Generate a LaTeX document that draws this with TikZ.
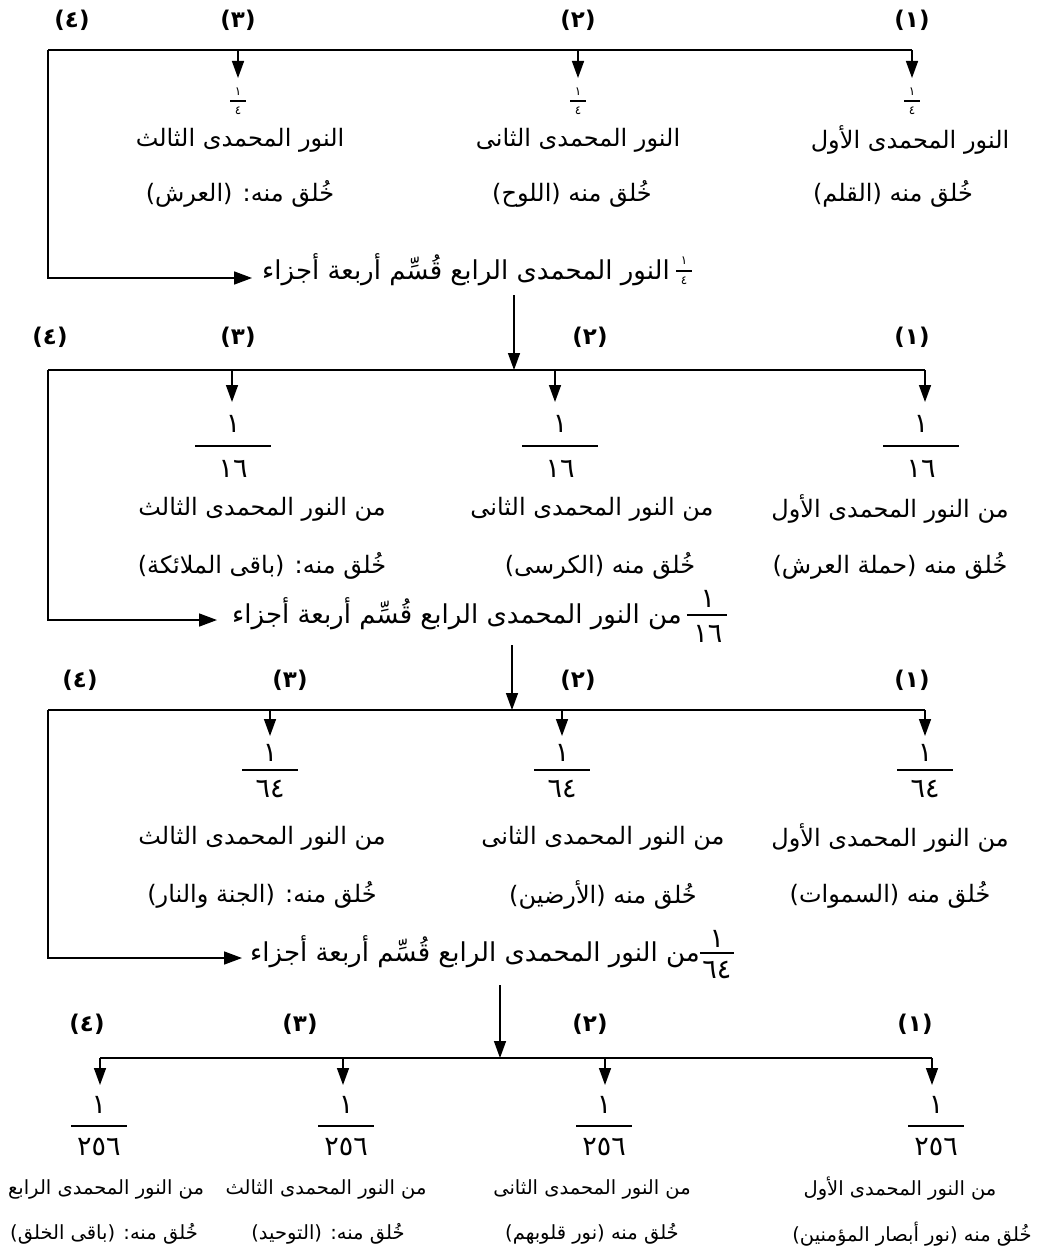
\documentclass[tikz,border=0pt]{standalone}
\usepackage{fontspec}
\newfontfamily\arabicfont[Script=Arabic]{DejaVu Sans}
\TeXXeTstate=1
\usetikzlibrary{arrows.meta}
\newcommand{\artxt}[1]{\beginR #1\endR}
\begin{document}
\begin{tikzpicture}[x=1pt,y=-1pt,
  every node/.style={inner sep=0pt},
  lbl/.style={font=\arabicfont\bfseries\fontsize{23}{26}\selectfont},
  rowtxt/.style={font=\arabicfont\fontsize{24}{28}\selectfont},
  rowsm/.style={font=\arabicfont\fontsize{19.5}{23}\selectfont},
  midtxt/.style={font=\arabicfont\fontsize{26}{30}\selectfont},
  num/.style={font=\arabicfont\fontsize{27}{30}\selectfont},
  snum/.style={font=\arabicfont\fontsize{12}{14}\selectfont},
  mainline/.style={line width=2.5pt},
  branch/.style={line width=1.5pt,-{Triangle[length=17pt,width=12pt]}},
  feed/.style={line width=1.6pt,-{Triangle[length=18pt,width=13pt]}},
  fbar/.style={line width=2.4pt}]
\useasboundingbox (0,0) rectangle (1044,1260);
\fill[white] (0,0) rectangle (1044,1260);

% ===== Section 1 =====
\node[lbl] (a4) at (72,20) {(٤)};
\node[lbl] (a3) at (238,20) {(٣)};
\node[lbl] (a2) at (578,20) {(٢)};
\node[lbl] (a1) at (912,20) {(١)};
\coordinate (aw) at (48,50);
\coordinate (ae) at (912,50);
\coordinate (aj3) at (238,50);
\coordinate (aj2) at (578,50);
\draw[mainline] (aw) -- (ae);
\coordinate (at1) at (912,78);
\coordinate (at2) at (578,78);
\coordinate (at3) at (238,78);
\draw[branch] (ae) -- (at1);
\draw[branch] (aj2) -- (at2);
\draw[branch] (aj3) -- (at3);
\foreach \x/\n in {912/1,578/2,238/3}{
  \node[snum] (afn\n) at (\x,92) {١};
  \draw[fbar] (\x-8,101) -- (\x+8,101);
  \node[snum] (afd\n) at (\x,111) {٤};
}
\node[rowtxt] (ar1a) at (910,140) {\artxt{النور المحمدى الأول}};
\node[rowtxt] (ar1b) at (578,140) {\artxt{النور المحمدى الثانى}};
\node[rowtxt] (ar1c) at (240,140) {\artxt{النور المحمدى الثالث}};
\node[rowtxt] (ar2a) at (893,194) {\artxt{خُلق منه (القلم)}};
\node[rowtxt] (ar2b) at (572,194) {\artxt{خُلق منه (اللوح)}};
\node[rowtxt] (ar2c) at (240,194) {\artxt{خُلق منه: (العرش)}};
\node[midtxt,anchor=west] (am) at (262,270) {\artxt{النور المحمدى الرابع قُسِّم أربعة أجزاء}};
\node[snum] (amn) at ([xshift=14pt,yshift=9pt]am.east) {١};
\draw[fbar] ([xshift=-8pt,yshift=-10pt]amn.center) -- ([xshift=8pt,yshift=-10pt]amn.center);
\node[snum] (amd) at ([yshift=-20pt]amn.center) {٤};
\coordinate (atip) at (252,278);
\draw[feed] (aw) |- (atip);

% ===== Section 2 =====
\node[lbl] (b4) at (50,337) {(٤)};
\node[lbl] (b3) at (238,337) {(٣)};
\node[lbl] (b2) at (590,337) {(٢)};
\node[lbl] (b1) at (912,337) {(١)};
\coordinate (bin) at (514,295);
\coordinate (bjm) at (514,370);
\draw[branch] (bin) -- (bjm);
\coordinate (bw) at (48,370);
\coordinate (be) at (925,370);
\coordinate (bj3) at (232,370);
\coordinate (bj2) at (555,370);
\draw[mainline] (bw) -- (be);
\coordinate (bt1) at (925,402);
\coordinate (bt2) at (555,402);
\coordinate (bt3) at (232,402);
\draw[branch] (be) -- (bt1);
\draw[branch] (bj2) -- (bt2);
\draw[branch] (bj3) -- (bt3);
\foreach \x/\n in {921/1,560/2,233/3}{
  \node[num] (bfn\n) at (\x,424) {١};
  \draw[fbar] (\x-38,446) -- (\x+38,446);
  \node[num] (bfd\n) at (\x,469) {١٦};
}
\node[rowtxt] (br1a) at (890,509) {\artxt{من النور المحمدى الأول}};
\node[rowtxt] (br1b) at (592,509) {\artxt{من النور المحمدى الثانى}};
\node[rowtxt] (br1c) at (262,509) {\artxt{من النور المحمدى الثالث}};
\node[rowtxt] (br2a) at (890,566) {\artxt{خُلق منه (حملة العرش)}};
\node[rowtxt] (br2b) at (600,566) {\artxt{خُلق منه (الكرسى)}};
\node[rowtxt] (br2c) at (262,566) {\artxt{خُلق منه: (باقى الملائكة)}};
\node[midtxt,anchor=west] (bm) at (232,614) {\artxt{من النور المحمدى الرابع قُسِّم أربعة أجزاء}};
\node[num] (bmn) at ([xshift=26pt,yshift=15pt]bm.east) {١};
\draw[fbar] ([xshift=-21pt,yshift=-16pt]bmn.center) -- ([xshift=19pt,yshift=-16pt]bmn.center);
\node[num] (bmd) at ([yshift=-35pt]bmn.center) {١٦};
\coordinate (btip) at (217,620);
\draw[feed] (bw) |- (btip);

% ===== Section 3 =====
\node[lbl] (c4) at (80,680) {(٤)};
\node[lbl] (c3) at (290,680) {(٣)};
\node[lbl] (c2) at (578,680) {(٢)};
\node[lbl] (c1) at (912,680) {(١)};
\coordinate (cin) at (512,645);
\coordinate (cjm) at (512,710);
\draw[branch] (cin) -- (cjm);
\coordinate (cw) at (48,710);
\coordinate (ce) at (925,710);
\coordinate (cj3) at (270,710);
\coordinate (cj2) at (562,710);
\draw[mainline] (cw) -- (ce);
\coordinate (ct1) at (925,736);
\coordinate (ct2) at (562,736);
\coordinate (ct3) at (270,736);
\draw[branch] (ce) -- (ct1);
\draw[branch] (cj2) -- (ct2);
\draw[branch] (cj3) -- (ct3);
\foreach \x/\n in {925/1,562/2,270/3}{
  \node[num] (cfn\n) at (\x,753) {١};
  \draw[fbar] (\x-28,770) -- (\x+28,770);
  \node[num] (cfd\n) at (\x,789) {٦٤};
}
\node[rowtxt] (cr1a) at (890,838) {\artxt{من النور المحمدى الأول}};
\node[rowtxt] (cr1b) at (603,838) {\artxt{من النور المحمدى الثانى}};
\node[rowtxt] (cr1c) at (262,838) {\artxt{من النور المحمدى الثالث}};
\node[rowtxt] (cr2a) at (890,895) {\artxt{خُلق منه (السموات)}};
\node[rowtxt] (cr2b) at (603,895) {\artxt{خُلق منه (الأرضين)}};
\node[rowtxt] (cr2c) at (262,895) {\artxt{خُلق منه: (الجنة والنار)}};
\node[midtxt,anchor=west] (cm) at (250,952) {\artxt{من النور المحمدى الرابع قُسِّم أربعة أجزاء}};
\node[num] (cmn) at ([xshift=17pt,yshift=13pt]cm.east) {١};
\draw[fbar] ([xshift=-17pt,yshift=-14pt]cmn.center) -- ([xshift=17pt,yshift=-14pt]cmn.center);
\node[num] (cmd) at ([yshift=-31pt]cmn.center) {٦٤};
\coordinate (ctip) at (242,958);
\draw[feed] (cw) |- (ctip);

% ===== Section 4 =====
\node[lbl] (d4) at (87,1024) {(٤)};
\node[lbl] (d3) at (300,1024) {(٣)};
\node[lbl] (d2) at (590,1024) {(٢)};
\node[lbl] (d1) at (915,1024) {(١)};
\coordinate (din) at (500,985);
\coordinate (djm) at (500,1058);
\draw[branch] (din) -- (djm);
\coordinate (dw) at (100,1058);
\coordinate (de) at (932,1058);
\coordinate (dj3) at (343,1058);
\coordinate (dj2) at (605,1058);
\draw[mainline] (dw) -- (de);
\coordinate (dt1) at (932,1085);
\coordinate (dt2) at (605,1085);
\coordinate (dt3) at (343,1085);
\coordinate (dt4) at (100,1085);
\draw[branch] (de) -- (dt1);
\draw[branch] (dj2) -- (dt2);
\draw[branch] (dj3) -- (dt3);
\draw[branch] (dw) -- (dt4);
\foreach \x/\n in {936/1,604/2,346/3,99/4}{
  \node[num] (dfn\n) at (\x,1105) {١};
  \draw[fbar] (\x-28,1126) -- (\x+28,1126);
  \node[num] (dfd\n) at (\x,1147) {٢٥٦};
}
\node[rowsm] (dr1a) at (900,1189) {\artxt{من النور المحمدى الأول}};
\node[rowsm] (dr1b) at (592,1189) {\artxt{من النور المحمدى الثانى}};
\node[rowsm] (dr1c) at (326,1189) {\artxt{من النور المحمدى الثالث}};
\node[rowsm] (dr1d) at (106,1189) {\artxt{من النور المحمدى الرابع}};
\node[rowsm] (dr2a) at (912,1234) {\artxt{خُلق منه (نور أبصار المؤمنين)}};
\node[rowsm] (dr2b) at (592,1234) {\artxt{خُلق منه (نور قلوبهم)}};
\node[rowsm] (dr2c) at (328,1234) {\artxt{خُلق منه: (التوحيد)}};
\node[rowsm] (dr2d) at (104,1234) {\artxt{خُلق منه: (باقى الخلق)}};
\end{tikzpicture}
\end{document}
